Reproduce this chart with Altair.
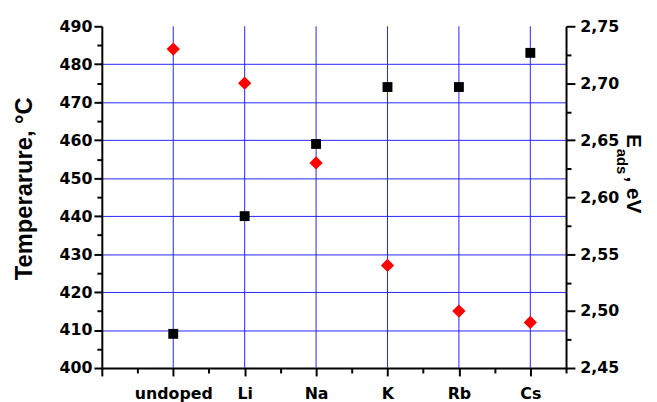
import altair as alt
import pandas as pd

# ---- data ----
categories = ["undoped", "Li", "Na", "K", "Rb", "Cs"]
positions = [1, 2, 3, 4, 5, 6]
temperature = [409, 440, 459, 474, 474, 483]          # left axis, black squares
e_ads = [2.73, 2.70, 2.63, 2.54, 2.50, 2.49]           # right axis, red diamonds

x_ticks = [i * 0.5 for i in range(14)]                 # 0 .. 6.5
t_ticks = list(range(400, 491, 5))                     # 400 .. 490
e_ticks = [round(2.45 + 0.025 * i, 3) for i in range(13)]  # 2.45 .. 2.75

df = pd.DataFrame({"pos": positions, "cat": categories, "T": temperature, "E": e_ads})

GRID = "#2424ff"
TICK_FONT = "DejaVu Sans"
TITLE_FONT = "Liberation Sans"

label_expr = " : ".join(f"datum.value === {p} ? '{c}'" for p, c in zip(positions, categories)) + " : ''"

common_axis = dict(
    domainColor="black", domainWidth=2, tickColor="black", tickWidth=2,
    labelFont=TICK_FONT, labelFontWeight="bold", labelColor="black",
    labelOverlap=False, labelBound=False, labelFlush=False,
)

x_scale = alt.Scale(domain=[0, 6.5], nice=False, zero=False)
x_axis = alt.Axis(
    values=x_ticks, labelExpr=label_expr, title=None, grid=False,
    tickSize={"condition": {"test": "datum.value % 1 === 0", "value": 8}, "value": 5},
    labelFontSize=16, labelPadding=10, **common_axis,
)
x_enc = alt.X("pos:Q", scale=x_scale, axis=x_axis)

y_left = alt.Y(
    "T:Q",
    scale=alt.Scale(domain=[400, 490], nice=False, zero=False),
    axis=alt.Axis(
        values=t_ticks, format="d",
        labelExpr="datum.value % 10 === 0 ? datum.label : ''",
        grid=True, gridColor=GRID, gridWidth=1,
        gridOpacity={"condition": {"test": "datum.value % 10 === 0 && datum.value > 400 && datum.value < 490", "value": 1}, "value": 0},
        tickSize={"condition": {"test": "datum.value % 10 === 0", "value": 8}, "value": 5},
        labelFontSize=16, labelPadding=2,
        title="Temperarure, °C", titleFont=TITLE_FONT, titleFontSize=24, titleFontWeight="bold",
        titleColor="black", titleX=-71, titleY=164, titleBaseline="alphabetic",
        **common_axis,
    ),
)

y_right = alt.Y(
    "E:Q",
    scale=alt.Scale(domain=[2.45, 2.75], nice=False, zero=False),
    axis=alt.Axis(
        orient="right", values=e_ticks, grid=False, title=None,
        labelExpr="round(datum.value * 1000) % 50 === 0 ? replace(format(datum.value, '.2f'), '.', ',') : ''",
        tickSize={"condition": {"test": "round(datum.value * 1000) % 50 === 0", "value": 9}, "value": 5},
        labelFontSize=16, labelPadding=5,
        **common_axis,
    ),
)

# vertical grid lines at each category position
vgrid = alt.Chart(df).mark_rule(color=GRID, strokeWidth=1).encode(
    x=x_enc, y=alt.value(0), y2=alt.value(346)
)

squares = alt.Chart(df).mark_point(
    shape="square", filled=True, size=100, color="black", opacity=1
).encode(x=x_enc, y=y_left)

diamonds = alt.Chart(df).mark_point(
    shape="diamond", filled=True, size=180, color="#ff0000", opacity=1
).encode(x=x_enc, y=y_right)


def seg(text, x, y, size):
    return alt.Chart(alt.Data(values=[{}])).mark_text(
        text=text, angle=90, align="left", baseline="alphabetic",
        font=TITLE_FONT, fontWeight="bold", fontSize=size, color="black",
    ).encode(x=alt.value(x), y=alt.value(y))


title_E = seg("E", 532, 109, 21)
title_ads = seg("ads", 522, 124, 15)
title_ev = seg(", eV", 532, 152, 21)

chart = alt.layer(vgrid, squares, diamonds, title_E, title_ads, title_ev).resolve_scale(
    y="independent"
).properties(
    width=470, height=346,
    autosize=alt.AutoSizeParams(type="none"),
    padding={"left": 95, "top": 16, "right": 84, "bottom": 40},
).configure_view(stroke=None)

chart.save("out.html", embed_options={"renderer": "svg", "actions": False})
